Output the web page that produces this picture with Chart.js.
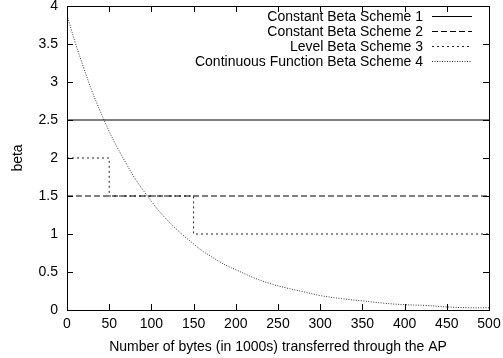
<!DOCTYPE html>
<html>
<head>
<meta charset="utf-8">
<script src="https://cdn.jsdelivr.net/npm/chart.js@4/dist/chart.umd.min.js"></script>
<style>
  html, body { margin: 0; padding: 0; background: #fff; }
  #wrap { width: 503px; height: 358px; }
</style>
</head>
<body>
<div id="wrap"><canvas id="betaChart" width="503" height="358"></canvas></div>
<script>
const seriesNames = [
    'Constant Beta Scheme 1',
    'Constant Beta Scheme 2',
    'Level Beta Scheme 3',
    'Continuous Function Beta Scheme 4'
];
const xTicks = [0, 50, 100, 150, 200, 250, 300, 350, 400, 450, 500];
const yTicks = [0, 0.5, 1, 1.5, 2, 2.5, 3, 3.5, 4];

// bytes (1000s) / beta pairs
const scheme1 = [[0, 2.5], [500, 2.5]];
const scheme2 = [[0, 1.5], [500, 1.5]];
const scheme3 = [[0, 2], [50, 2], [50, 1.5], [150, 1.5], [150, 1], [500, 1]];
const scheme4X = [0, 10, 20, 30, 40, 50, 60, 70, 80, 90, 100, 110, 120, 130, 140, 150,
    160, 170, 180, 190, 200, 220, 240, 260, 280, 300, 325, 350, 375, 400, 425, 450, 475, 500];
const scheme4Y = [3.88, 3.51, 3.18, 2.87, 2.60, 2.35, 2.13, 1.93, 1.74, 1.58, 1.43, 1.29, 1.17, 1.06, 0.96, 0.87,
    0.78, 0.71, 0.64, 0.58, 0.53, 0.43, 0.35, 0.29, 0.24, 0.19, 0.15, 0.12, 0.09, 0.07, 0.06, 0.04, 0.03, 0.03];

const toPoints = arr => arr.map(p => ({ x: p[0], y: p[1] }));

const FONT = 'Liberation Sans, Arial, sans-serif';
const FONT_SIZE = 14;
const lineStyles = [
    { color: '#000', dash: [], width: 1 },
    { color: '#000', dash: [6, 3], width: 1 },
    { color: '#222', dash: [2, 3], width: 1 },
    { color: '#333', dash: [1, 1.5], width: 1 }
];

// gnuplot-style box: frame, inward ticks on all four sides, key in the top right
const frame = {
    id: 'frame',
    afterDatasetsDraw(chart) {
        const { ctx, chartArea: a, scales } = chart;
        ctx.save();
        ctx.strokeStyle = '#000';
        ctx.lineWidth = 1;
        ctx.setLineDash([]);
        ctx.strokeRect(a.left + 0.5, a.top + 0.5, a.right - a.left, a.bottom - a.top);
        ctx.beginPath();
        xTicks.forEach(v => {
            const px = Math.round(scales.x.getPixelForValue(v)) + 0.5;
            ctx.moveTo(px, a.bottom); ctx.lineTo(px, a.bottom - 6);
            ctx.moveTo(px, a.top); ctx.lineTo(px, a.top + 6);
        });
        yTicks.forEach(v => {
            const py = Math.round(scales.y.getPixelForValue(v)) + 0.5;
            ctx.moveTo(a.left, py); ctx.lineTo(a.left + 6, py);
            ctx.moveTo(a.right, py); ctx.lineTo(a.right - 6, py);
        });
        ctx.stroke();

        ctx.font = FONT_SIZE + 'px ' + FONT;
        ctx.fillStyle = '#000';
        ctx.textAlign = 'right';
        ctx.textBaseline = 'middle';
        chart.data.datasets.forEach((ds, i) => {
            const y = 16 + i * 15;
            ctx.fillText(ds.label, 423, y + 1);
            const st = lineStyles[i];
            ctx.strokeStyle = st.color;
            ctx.lineWidth = st.width;
            ctx.setLineDash(st.dash);
            ctx.beginPath();
            ctx.moveTo(432, y + 0.5);
            ctx.lineTo(472, y + 0.5);
            ctx.stroke();
        });
        ctx.restore();
    }
};

const datasets = [
    toPoints(scheme1),
    toPoints(scheme2),
    toPoints(scheme3),
    scheme4X.map((x, i) => ({ x: x, y: scheme4Y[i] }))
].map((data, i) => ({
    label: seriesNames[i],
    data: data,
    borderColor: lineStyles[i].color,
    borderWidth: lineStyles[i].width,
    borderDash: lineStyles[i].dash,
    pointRadius: 0,
    tension: i === 3 ? 0.4 : 0,
    fill: false
}));

new Chart(document.getElementById('betaChart').getContext('2d'), {
    type: 'line',
    data: { datasets: datasets },
    options: {
        responsive: false,
        animation: false,
        layout: { padding: { top: 6, right: 14, bottom: 2, left: 4 } },
        plugins: { legend: { display: false }, tooltip: { enabled: false } },
        scales: {
            x: {
                type: 'linear',
                min: 0,
                max: 500,
                grid: { display: false, drawTicks: false },
                border: { display: false },
                afterBuildTicks: s => { s.ticks = xTicks.map(v => ({ value: v })); },
                ticks: { color: '#000', font: { family: FONT, size: FONT_SIZE }, padding: 6, maxRotation: 0 },
                title: {
                    display: true,
                    text: 'Number of bytes (in 1000s) transferred through the AP',
                    color: '#000',
                    font: { family: FONT, size: FONT_SIZE },
                    padding: { top: 2, bottom: 0 }
                },
                afterFit: s => { s.height = 46; s.paddingLeft = 0; s.paddingRight = 0; }
            },
            y: {
                type: 'linear',
                min: 0,
                max: 4,
                grid: { display: false, drawTicks: false },
                border: { display: false },
                afterBuildTicks: s => { s.ticks = yTicks.map(v => ({ value: v })); },
                ticks: {
                    color: '#000',
                    font: { family: FONT, size: FONT_SIZE },
                    padding: 9,
                    callback: v => String(v)
                },
                title: {
                    display: true,
                    text: 'beta',
                    color: '#000',
                    font: { family: FONT, size: FONT_SIZE },
                    padding: { top: 6, bottom: 0 }
                },
                afterFit: s => { s.width = 63; s.paddingTop = 0; s.paddingBottom = 0; }
            }
        }
    },
    plugins: [frame]
});
</script>
</body>
</html>
